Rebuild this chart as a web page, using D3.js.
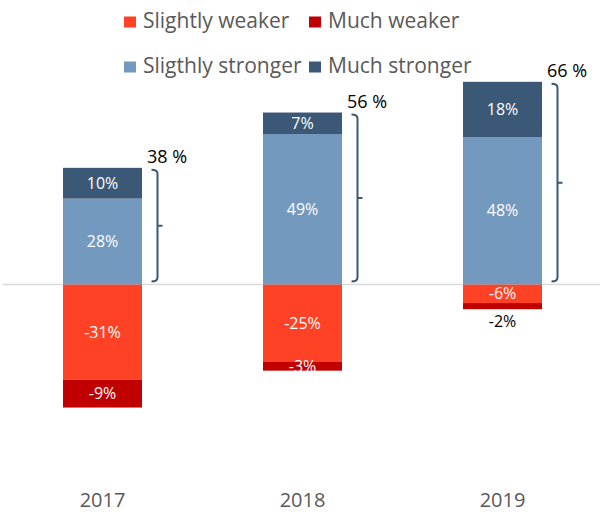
<!DOCTYPE html>
<html>
<head>
<meta charset="utf-8">
<script src="https://cdn.jsdelivr.net/npm/d3@7"></script>
<style>
  html, body { margin: 0; padding: 0; background: #fff; }
  svg { display: block; font-family: "Open Sans", sans-serif; }
</style>
</head>
<body>
<svg id="chart" width="600" height="514"></svg>
<script>
// Yearly shares of answers, in percent
const years = ["2017", "2018", "2019"];
const slightlyWeaker = [-31, -25, -6];
const muchWeaker = [-9, -3, -2];
const slightlyStronger = [28, 49, 48];
const muchStronger = [10, 7, 18];
const strongerTotals = [38, 56, 66];

const legendLabels = ["Slightly weaker", "Much weaker", "Sligthly stronger", "Much stronger"];
const colors = {
  slightlyWeaker: "#ff4125",
  muchWeaker: "#c00000",
  slightlyStronger: "#7499be",
  muchStronger: "#3b5877"
};

const svg = d3.select("#chart");

const x = d3.scaleBand()
  .domain(years)
  .range([2.5, 602.5])
  .paddingInner(0.605)
  .paddingOuter(0.3025);

const y = d3.scaleLinear().domain([-60, 70]).range([469, 69.5]);

// stacked segments: [start, end] for each series and year
const segs = [];
years.forEach((yr, i) => {
  const sw = slightlyWeaker[i], mw = muchWeaker[i];
  const ss = slightlyStronger[i], ms = muchStronger[i];
  segs.push({ yr, key: "slightlyStronger", v: ss, y0: 0, y1: ss });
  segs.push({ yr, key: "muchStronger", v: ms, y0: ss, y1: ss + ms });
  segs.push({ yr, key: "slightlyWeaker", v: sw, y0: 0, y1: sw });
  segs.push({ yr, key: "muchWeaker", v: mw, y0: sw, y1: sw + mw });
});

// zero line
svg.append("line")
  .attr("x1", 3).attr("x2", 600)
  .attr("y1", y(0)).attr("y2", y(0))
  .attr("stroke", "#d9d9d9").attr("stroke-width", 1.5);

svg.append("g").selectAll("rect")
  .data(segs)
  .join("rect")
  .attr("x", d => x(d.yr))
  .attr("width", x.bandwidth())
  .attr("y", d => y(Math.max(d.y0, d.y1)))
  .attr("height", d => Math.abs(y(d.y0) - y(d.y1)))
  .attr("fill", d => colors[d.key]);

// value labels inside segments (small trailing segment labelled below the bar)
svg.append("g").selectAll("text")
  .data(segs)
  .join("text")
  .attr("x", d => x(d.yr) + x.bandwidth() / 2)
  .attr("y", d => {
    if (d.key === "muchWeaker" && Math.abs(d.v) < 3) return y(d.y1) + 18;
    return (y(d.y0) + y(d.y1)) / 2 + 5.5;
  })
  .attr("text-anchor", "middle")
  .attr("font-size", 16)
  .attr("fill", d => (d.key === "muchWeaker" && Math.abs(d.v) < 3) ? "#000" : "#fff")
  .text(d => d.v + "%");

// brace showing the total of the stronger answers
const brace = svg.append("g");
years.forEach((yr, i) => {
  const bx = x(yr) + x.bandwidth() + 15.5;
  const top = y(strongerTotals[i]) + 2;
  const bot = y(0) - 3;
  const mid = (top + bot) / 2;
  brace.append("path")
    .attr("d", `M${bx - 6},${top} Q${bx},${top} ${bx},${top + 4} L${bx},${bot - 4} Q${bx},${bot} ${bx - 6},${bot} M${bx},${mid} L${bx + 5},${mid}`)
    .attr("fill", "none")
    .attr("stroke", colors.muchStronger)
    .attr("stroke-width", 2);
  brace.append("text")
    .attr("x", x(yr) + x.bandwidth() + 25)
    .attr("y", y(strongerTotals[i]) - 5)
    .attr("text-anchor", "middle")
    .attr("font-size", 18)
    .attr("fill", "#000")
    .text(strongerTotals[i] + " %");
});

// category axis labels
svg.append("g").selectAll("text")
  .data(years)
  .join("text")
  .attr("x", d => x(d) + x.bandwidth() / 2)
  .attr("y", 507)
  .attr("text-anchor", "middle")
  .attr("font-size", 20)
  .attr("fill", "#595959")
  .text(d => d);

// legend, two rows
const legendItems = [
  { label: legendLabels[0], color: colors.slightlyWeaker, lx: 124, ly: 27.5 },
  { label: legendLabels[1], color: colors.muchWeaker, lx: 309, ly: 27.5 },
  { label: legendLabels[2], color: colors.slightlyStronger, lx: 124, ly: 72.5 },
  { label: legendLabels[3], color: colors.muchStronger, lx: 309, ly: 72.5 }
];
const lg = svg.append("g").selectAll("g").data(legendItems).join("g");
lg.append("rect")
  .attr("x", d => d.lx).attr("y", d => d.ly - 11)
  .attr("width", 12).attr("height", 11)
  .attr("fill", d => d.color);
lg.append("text")
  .attr("x", d => d.lx + 19).attr("y", d => d.ly)
  .attr("font-size", 21)
  .attr("fill", "#595959")
  .text(d => d.label);
</script>
</body>
</html>
